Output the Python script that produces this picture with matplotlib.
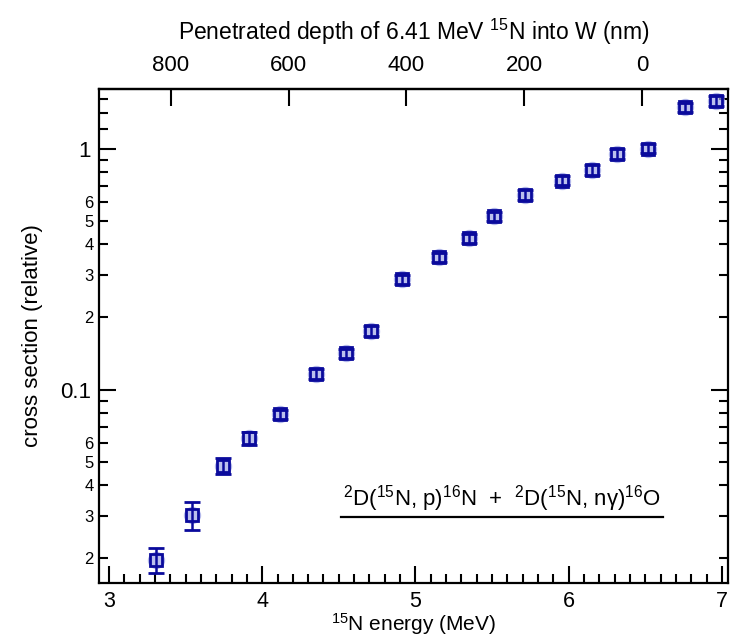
import matplotlib.pyplot as plt
from matplotlib.lines import Line2D

plt.rcParams['font.family'] = ['Liberation Sans', 'DejaVu Sans']
plt.rcParams['mathtext.fontset'] = 'custom'
plt.rcParams['mathtext.rm'] = 'Liberation Sans'
plt.rcParams['mathtext.it'] = 'Liberation Sans:italic'

# 15N beam energy (MeV) and relative cross section
energy = [3.31, 3.545, 3.745, 3.912, 4.115, 4.350, 4.546, 4.709, 4.911, 5.151,
          5.351, 5.512, 5.716, 5.954, 6.155, 6.317, 6.519, 6.758, 6.959]
xsec = [0.0197, 0.0302, 0.0483, 0.0627, 0.0789, 0.1159, 0.1413, 0.1754, 0.2867, 0.3536,
        0.4241, 0.5232, 0.6414, 0.7355, 0.8145, 0.9489, 1.0, 1.482, 1.579]
xsec_err = [0.0024, 0.0040, 0.0035, 0.0038, 0.0035, 0.0055, 0.0065, 0.0080, 0.0130, 0.0160,
            0.0190, 0.0235, 0.0290, 0.0330, 0.0365, 0.0425, 0.0450, 0.0670, 0.0710]

y_major = [0.1, 1]
y_minor = [0.02, 0.03, 0.04, 0.05, 0.06, 0.07, 0.08, 0.09,
           0.2, 0.3, 0.4, 0.5, 0.6, 0.7, 0.8, 0.9, 1.2, 1.4, 1.6]
y_minor_labels = ['2', '3', '4', '5', '6', '', '', '',
                  '2', '3', '4', '5', '6', '', '', '', '', '', '']
depth_ticks = [800, 600, 400, 200, 0]

# linear energy -> depth conversion for the top axis
E_SURF = 6.478
NM_PER_MEV = 260.2

blue = '#0a0a9c'

fig = plt.figure(figsize=(7.3, 6.37), dpi=100)
ax = fig.add_axes([0.1356, 0.0852, 0.8617, 0.7751])

# halo + open square + error bars
ax.plot(energy, xsec, 'o', ms=11.5, color='#9fa6e6', alpha=0.7, zorder=2)
ax.errorbar(energy, xsec, yerr=xsec_err, fmt='s', ms=8, mfc='none', mec=blue, mew=2,
            ecolor=blue, elinewidth=1.8, capsize=5.5, capthick=2.2, zorder=3)

ax.set_yscale('log')
ax.set_xlim(2.935, 7.04)
ax.set_ylim(0.01579, 1.766)

ax.set_xticks([3, 4, 5, 6, 7])
ax.set_xticks([x / 10 for x in range(30, 71)], minor=True)
ax.set_yticks(y_major)
ax.set_yticklabels(['0.1', '1'])
ax.set_yticks(y_minor, minor=True)
ax.set_yticklabels(y_minor_labels, minor=True)

ax.tick_params(which='both', direction='in', width=1.5, right=True, top=False)
ax.tick_params(which='major', length=12, labelsize=16, pad=6)
ax.tick_params(which='minor', length=6.5)
ax.tick_params(axis='y', which='minor', labelsize=12, pad=4)
ax.tick_params(axis='x', which='major', labelsize=15.5, pad=6)
for sp in ax.spines.values():
    sp.set_linewidth(1.6)

ax.set_xlabel(r'$^{15}$N energy (MeV)', fontsize=15, labelpad=-1)
ax.set_ylabel('cross section (relative)', fontsize=16, labelpad=12)

top = ax.secondary_xaxis('top', functions=(lambda e: (E_SURF - e) * NM_PER_MEV,
                                           lambda d: E_SURF - d / NM_PER_MEV))
top.set_xticks(depth_ticks)
top.tick_params(direction='in', length=12, width=1.5, labelsize=16, pad=9)
top.spines['top'].set_linewidth(1.6)
top.set_xlabel(r'Penetrated depth of 6.41 MeV $^{15}$N into W (nm)', fontsize=16.5, labelpad=11)

ax.text(0.641, 0.157, r'$^{2}$D($^{15}$N, p)$^{16}$N  +  $^{2}$D($^{15}$N, nγ)$^{16}$O',
        transform=ax.transAxes, ha='center', va='baseline', fontsize=16)
ax.add_line(Line2D([0.385, 0.897], [0.134, 0.134], transform=ax.transAxes,
                   color='black', lw=1.6))

fig.savefig('out.png', dpi=100)
